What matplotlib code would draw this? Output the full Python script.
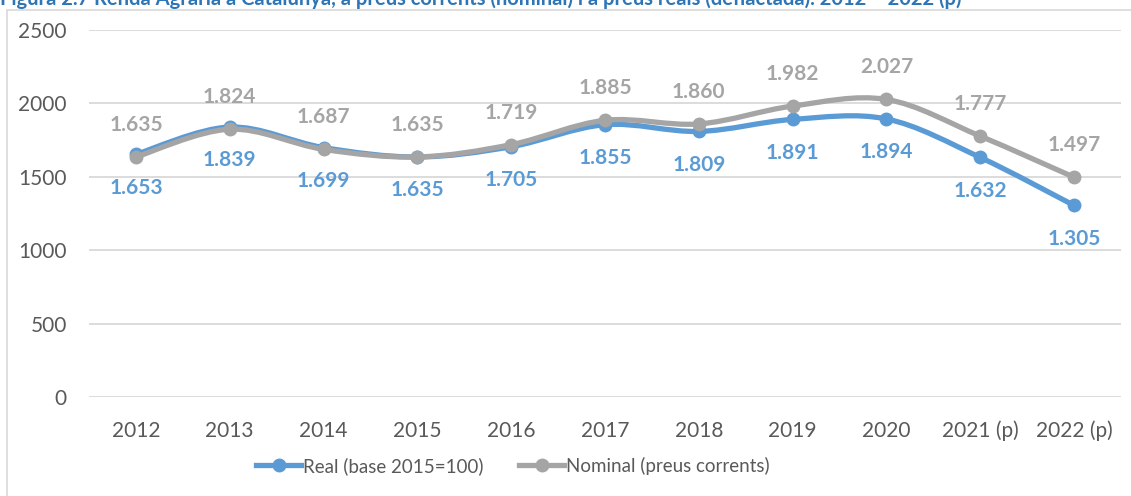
import matplotlib
matplotlib.use("Agg")
import matplotlib.pyplot as plt
import numpy as np
from matplotlib.path import Path
from matplotlib.patches import PathPatch, Rectangle
from matplotlib.lines import Line2D

# Data
years = ["2012", "2013", "2014", "2015", "2016", "2017", "2018", "2019", "2020", "2021 (p)", "2022 (p)"]
real = [1653, 1839, 1699, 1635, 1705, 1855, 1809, 1891, 1894, 1632, 1305]
nominal = [1635, 1824, 1687, 1635, 1719, 1885, 1860, 1982, 2027, 1777, 1497]

BLUE = "#5B9BD5"
GRAY = "#A5A5A5"
TXT = "#595959"

plt.rcParams["font.family"] = ["Lato", "DejaVu Sans"]


def smooth_path(x, y):
    """Catmull-Rom style smoothing drawn as cubic Bezier segments (like Excel's smoothed line)."""
    pts = np.column_stack([x, y]).astype(float)
    ext = np.vstack([pts[0], pts, pts[-1]])
    verts = [pts[0]]
    codes = [Path.MOVETO]
    for i in range(len(pts) - 1):
        p0, p1, p2, p3 = ext[i], ext[i + 1], ext[i + 2], ext[i + 3]
        c1 = p1 + (p2 - p0) / 6
        c2 = p2 - (p3 - p1) / 6
        verts += [c1, c2, p2]
        codes += [Path.CURVE4] * 3
    return Path(verts, codes)


fig = plt.figure(figsize=(11.31, 4.96), dpi=100)
ax = fig.add_axes([89 / 1131, 99 / 496, 1032 / 1131, 367 / 496])

x = np.arange(len(years))
for vals, color, z in [(real, BLUE, 3), (nominal, GRAY, 4)]:
    ax.add_patch(PathPatch(smooth_path(x, vals), facecolor="none", edgecolor=color,
                           lw=3.8, capstyle="round", zorder=z))
    ax.plot(x, vals, "o", color=color, markersize=9, zorder=z + 0.5)

# data labels
for i in range(len(years)):
    ax.annotate(f"{real[i] / 1000:.3f}", (x[i], real[i]), xytext=(0, -24), textcoords="offset points",
                ha="center", va="center", color=BLUE, fontsize=15, fontweight="bold")
    ax.annotate(f"{nominal[i] / 1000:.3f}", (x[i], nominal[i]), xytext=(0, 23), textcoords="offset points",
                ha="center", va="center", color=GRAY, fontsize=15, fontweight="bold")

ax.set_xlim(-0.5, len(years) - 0.5)
ax.set_ylim(0, 2500)
ax.set_yticks(range(0, 2501, 500))
ax.set_xticks(x)
ax.set_xticklabels(years)
ax.tick_params(length=0, labelsize=15, labelcolor=TXT)
ax.tick_params(axis="y", pad=16)
ax.tick_params(axis="x", pad=17)
ax.grid(axis="y", color="#D9D9D9", lw=1.3)
ax.set_axisbelow(True)
for s in ax.spines.values():
    s.set_visible(False)

handles = [Line2D([], [], color=BLUE, lw=3.8, marker="o", markersize=9),
           Line2D([], [], color=GRAY, lw=3.8, marker="o", markersize=9)]
fig.legend(handles, ["Real (base 2015=100)", "Nominal (preus corrents)"],
           loc="center", bbox_to_anchor=(513 / 1131, 1 - 466 / 496), ncol=2, frameon=False,
           fontsize=13.5, labelcolor=TXT, handlelength=2.4, handletextpad=0.1, columnspacing=1.9)

# chart frame
fig.patches.append(Rectangle((7 / 1131, -0.1), 1.2, 1 - 10 / 496 + 0.1, transform=fig.transFigure,
                             fill=False, edgecolor="#D9D9D9", lw=1.2))

# title, cut off at the top as in the source image
fig.text(0.0, 1 - 5 / 496,
         "Figura 2.7 Renda Agrària a Catalunya, a preus corrents (nominal) i a preus reals (deflactada). 2012 \u2013 2022 (p)",
         ha="left", va="baseline", color="#2E75B6", fontsize=14.5, fontweight="bold")

fig.savefig("out.png", dpi=100)
